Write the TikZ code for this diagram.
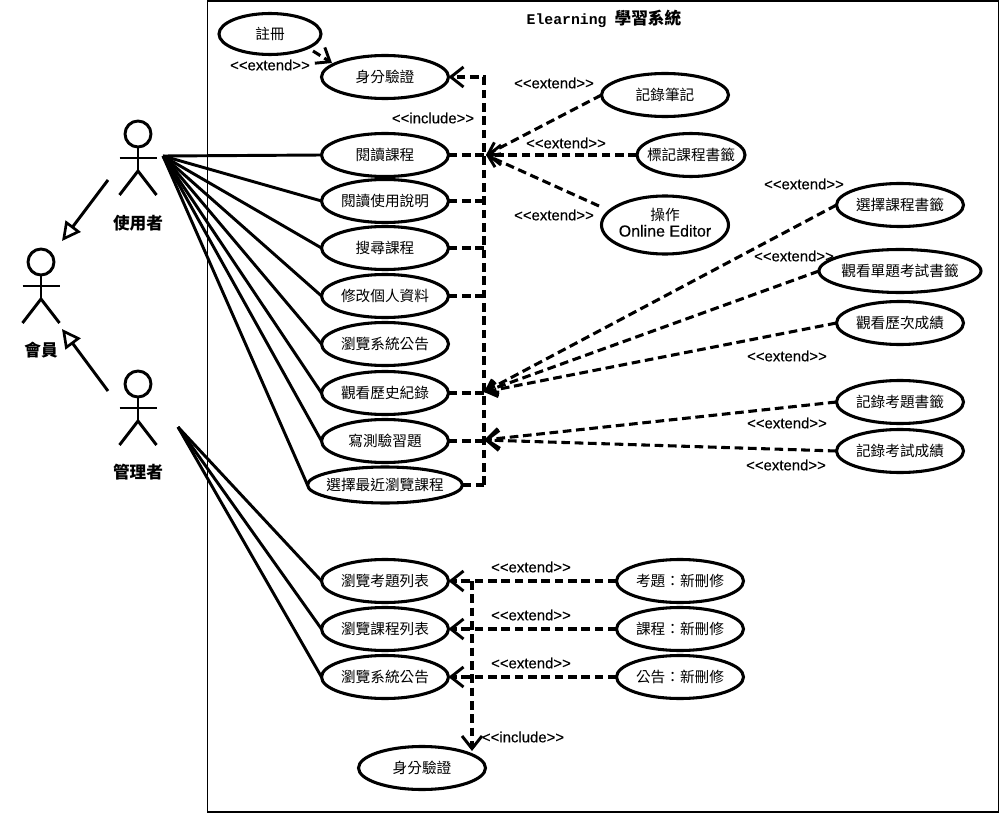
\documentclass[tikz,border=0pt]{standalone}
\usepackage{fontspec}
\usetikzlibrary{shapes.geometric,arrows.meta}
\setmainfont{Noto Sans CJK TC}
\newfontfamily\lat[FakeBold=0.25]{Liberation Sans}
\newfontfamily\mon{Liberation Mono}
\newdimen\pxu \pxu=0.75pt
\newcommand{\T}[1]{\makebox[0pt]{\raisebox{-1.2pt}{#1}}}
\tikzset{
  uc/.style={draw,ellipse,line width=2.3pt,fill=white,inner sep=0pt,outer sep=0pt,minimum width=127\pxu,minimum height=43\pxu,font=\fontsize{11pt}{13pt}\selectfont},
  assoc/.style={line width=2.2pt},
  dep/.style={line width=2.3pt,dash pattern=on 6.5pt off 3.5pt},
  deparrow/.style={dep,-{Straight Barb[length=9.5pt,width=15pt,line width=2.2pt]}},
  fanarrow/.style={dep,-{Straight Barb[length=8pt,width=11pt,line width=2.2pt]}},
  gen/.style={line width=2.2pt,-{Triangle[open,length=14pt,width=14pt,line width=2pt,fill=white]}},
  lab/.style={inner sep=0pt,font=\lat\fontsize{11.2pt}{13pt}\selectfont},
  actorlabel/.style={inner sep=0pt,font=\fontsize{12.5pt}{14pt}\selectfont\bfseries},
  limb/.style={line width=2.2pt}
}
\newcommand{\stick}[2]{%
  \draw[limb] (#1,#2) circle (13);
  \draw[limb] (#1,#2+13) -- (#1,#2+37);
  \draw[limb] (#1-18.5,#2+24) -- (#1+18.5,#2+24);
  \draw[limb] (#1-18.5,#2+61) -- (#1,#2+37) -- (#1+18.5,#2+61);
}
\begin{document}
\begin{tikzpicture}[x=0.75pt,y=-0.75pt]
\useasboundingbox (0,0) rectangle (1000,813);
\draw[line width=1.1pt] (207.5,1) rectangle (998.5,812);
\node[inner sep=0pt,font=\fontsize{12.5pt}{14pt}\selectfont\bfseries] (title) at (604,19) {{\mon\fontsize{11.1pt}{14pt}\selectfont Elearning}\hspace{6pt}學習系統};
% actors
\stick{138}{134}
\stick{41}{262}
\stick{138}{384}
\node[actorlabel] (luser) at (138,223) {使用者};
\node[actorlabel] (lmem) at (41,350) {會員};
\node[actorlabel] (ladm) at (138,472) {管理者};
\coordinate (uo) at (163,156);
\coordinate (ao) at (178,427);
\coordinate (g1s) at (108,180);
\coordinate (g1e) at (62,241);
\coordinate (g2s) at (108,391);
\coordinate (g2e) at (62,329);
\draw[gen] (g1s) -- (g1e);
\draw[gen] (g2s) -- (g2e);
% junctions
\coordinate (inctop) at (484,77);
\coordinate (incbot) at (484,485);
\coordinate (j1) at (486,155);
\coordinate (j2) at (484,392);
\coordinate (j3) at (484,440);
\coordinate (vtop) at (472,581);
\coordinate (vbot) at (472,751);
\coordinate (rs) at (313,51);
\coordinate (re) at (332,63);
\coordinate (es) at (599,206);
% use cases
\node[uc,minimum width=102\pxu,minimum height=41\pxu] (reg) at (270,34) {\T{註冊}};
\node[uc] (auth) at (385,77) {\T{身分驗證}};
\node[uc] (read) at (385,155) {\T{閱讀課程}};
\node[uc] (help) at (385,201) {\T{閱讀使用說明}};
\node[uc] (search) at (385,248) {\T{搜尋課程}};
\node[uc] (prof) at (385,296) {\T{修改個人資料}};
\node[uc] (notice) at (385,344) {\T{瀏覽系統公告}};
\node[uc] (hist) at (385,393) {\T{觀看歷史紀錄}};
\node[uc] (quiz) at (385,441) {\T{寫測驗習題}};
\node[uc,minimum width=155\pxu,minimum height=36\pxu] (recent) at (385,485) {\T{選擇最近瀏覽課程}};
\node[uc] (note) at (665,95) {\T{記錄筆記}};
\node[uc,minimum width=108\pxu] (mark) at (691,155) {\T{標記課程書籤}};
\node[uc,minimum height=58\pxu] (editor) at (665,225) {\makebox[0pt]{\raisebox{-2pt}{\begin{tabular}{@{}c@{}}操作\\[-1pt]{\lat\fontsize{12pt}{13pt}\selectfont Online Editor}\end{tabular}}}};
\node[uc] (r1) at (900,205) {\T{選擇課程書籤}};
\node[uc,minimum width=162\pxu] (r2) at (900,271) {\T{觀看單題考試書籤}};
\node[uc] (r3) at (900,323) {\T{觀看歷次成績}};
\node[uc] (r4) at (900,402) {\T{記錄考題書籤}};
\node[uc] (r5) at (900,451) {\T{記錄考試成績}};
\node[uc] (a1) at (385,581) {\T{瀏覽考題列表}};
\node[uc] (a2) at (385,629) {\T{瀏覽課程列表}};
\node[uc] (a3) at (385,677) {\T{瀏覽系統公告}};
\node[uc] (b1) at (680,581) {\T{考題：新刪修}};
\node[uc] (b2) at (680,629) {\T{課程：新刪修}};
\node[uc] (b3) at (680,677) {\T{公告：新刪修}};
\node[uc] (auth2) at (422,768) {\T{身分驗證}};
% associations
\foreach \n in {read,help,search,prof,notice,hist,quiz,recent}
  \draw[assoc] (uo) -- (\n.west);
\foreach \n in {a1,a2,a3}
  \draw[assoc] (ao) -- (\n.west);
% include bus
\draw[deparrow] (incbot) -- (inctop) -- (auth.east);
\draw[dep] (recent.east) -- (incbot);
\foreach \n in {read,help,search,prof,hist,quiz}
  \draw[dep] (\n.east) -- (\n.east -| inctop);
% extends
\draw[dep,-{Straight Barb[length=9pt,width=14pt,line width=2.2pt]}] (rs) -- (re);
\draw[fanarrow] (note.west) -- (j1);
\draw[deparrow] (mark.west) -- (j1);
\draw[fanarrow] (es) -- (j1);
\draw[fanarrow] (r1.west) -- (j2);
\draw[fanarrow] (r2.west) -- (j2);
\draw[fanarrow] (r3.west) -- (j2);
\draw[deparrow] (r4.west) -- (j3);
\draw[deparrow] (r5.west) -- (j3);
\draw[deparrow] (b1.west) -- (a1.east);
\draw[deparrow] (b2.west) -- (a2.east);
\draw[deparrow] (b3.west) -- (a3.east);
\draw[deparrow] (vtop) -- (vbot);
% labels
\node[lab] (l1) at (270,65) {<{}<extend>{}>};
\node[lab] (l2) at (433,118) {<{}<include>{}>};
\node[lab] (l3) at (554,83) {<{}<extend>{}>};
\node[lab] (l4) at (566,143) {<{}<extend>{}>};
\node[lab] (l5) at (554,215) {<{}<extend>{}>};
\node[lab] (l6) at (804,184) {<{}<extend>{}>};
\node[lab] (l7) at (794,256) {<{}<extend>{}>};
\node[lab] (l8) at (787,356) {<{}<extend>{}>};
\node[lab] (l9) at (787,423) {<{}<extend>{}>};
\node[lab] (l10) at (786,465) {<{}<extend>{}>};
\node[lab] (l11) at (531,567) {<{}<extend>{}>};
\node[lab] (l12) at (531,615) {<{}<extend>{}>};
\node[lab] (l13) at (531,663) {<{}<extend>{}>};
\node[lab] (l14) at (523,737) {<{}<include>{}>};
\end{tikzpicture}
\end{document}
